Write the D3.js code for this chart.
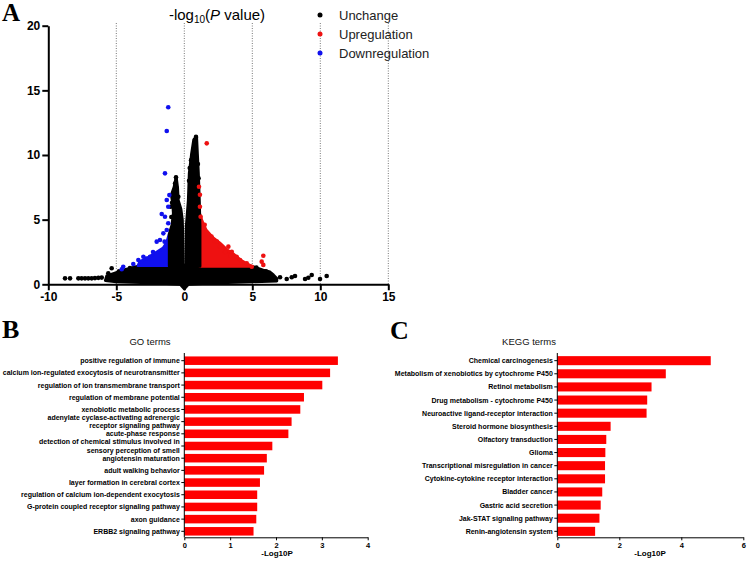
<!DOCTYPE html>
<html><head><meta charset="utf-8">
<script src="https://cdn.jsdelivr.net/npm/d3@7"></script>
<style>
body{margin:0;background:#fff;}
svg{display:block;font-family:"Liberation Sans",Arial,sans-serif;}
</style></head>
<body><svg id="c" width="747" height="561"></svg>
<script>
// ---------- Panel A data (volcano) ----------
const volcanoXTicks = [-10, -5, 0, 5, 10, 15];
const volcanoYTicks = [0, 5, 10, 15, 20];
const guideLines = [-5, 0, 5, 10, 15];
// dense clouds, outlined in data units
const blackBaseCloud = [[-5.8,0.3],[-5.7,0.65],[-5.0,0.9],[-4.3,1.15],[-3.4,1.4],[-1.1,1.45],[1.15,1.45],[4.9,1.4],[5.1,1.35],[5.8,1.1],[6.3,0.95],[6.55,0.72],[6.8,0.45],[6.8,0.25],[5,0.2],[2,0.1],[0.3,0.0],[0,-0.35],[-0.3,0],[-2,0.1],[-5,0.2]];
const blackLeftColumn = [[-1.1,1.4],[-1.1,3.9],[-0.9,4.6],[-0.8,5.5],[-0.85,6.3],[-0.95,6.9],[-0.75,7.5],[-0.6,8.3],[-0.5,7.5],[-0.45,6.5],[-0.25,5.8],[-0.15,5],[-0.12,4],[-0.08,1.4]];
const blackRightColumn = [[0.12,1.4],[0.15,4.5],[0.3,6.5],[0.37,8.6],[0.54,10.1],[0.7,11.2],[0.9,11.4],[0.96,10.1],[1.03,8.6],[1.1,6.5],[1.15,4.5],[1.15,1.4]];
const redCloud = [[1.15,1.4],[1.15,5.4],[1.3,4.9],[1.6,4.2],[2.1,3.6],[2.6,3.2],[3.1,2.7],[3.6,2.35],[4.1,1.9],[4.5,1.65],[4.85,1.45],[4.9,1.4]];
const blueCloud = [[-1.1,1.45],[-1.1,3.9],[-1.3,3.2],[-1.55,2.8],[-2.15,2.4],[-2.76,2.0],[-3.26,1.75],[-3.4,1.45]];
// individual points
const unchangePoints = [[-8.77,0.46],[-8.4,0.46],[-7.79,0.46],[-7.55,0.46],[-7.3,0.46],[-7.06,0.46],[-6.81,0.46],[-6.57,0.48],[-6.32,0.5],[-6.07,0.52],[-5.34,1.24],[-5.59,0.85],
  [7.04,0.54],[7.53,0.41],[7.9,0.54],[8.14,0.64],[8.88,0.41],[9.12,0.51],[9.37,0.72],[9.98,0.41],[10.47,0.64],
  [-0.61,8.27],[-0.68,7.8],[-0.56,7.42],[-0.68,6.93],[-0.44,6.77],[-0.9,6.3],[-1.0,6.0],[-0.95,5.2],
  [0.86,11.4],[0.79,11.03],[0.74,10.64],[0.66,10.13],[0.5,9.6],[0.4,9.0],[1.0,9.3],[0.35,8.0],[1.05,8.2],
  [5.3,1.3],[6.0,1.0],[-4.8,1.0],[-4.0,1.25]];
const upPoints = [[1.65,10.9],[1.08,7.55],[1.15,6.93],[1.15,6.0],[1.2,5.23],[2.26,3.3],[2.63,2.91],[3.24,2.91],[3.49,2.52],[3.85,2.13],[4.1,1.88],[4.59,1.62],[5.81,2.21],[5.69,1.75],[5.81,1.5],[4.96,1.36],[3.0,2.5],[2.0,3.7],[1.5,4.6],[2.4,3.3],[3.4,2.2]];
const downPoints = [[-1.18,13.69],[-1.29,11.86],[-1.42,8.58],[-1.1,6.9],[-1.29,6.52],[-1.18,6.0],[-1.66,5.44],[-1.42,5.23],[-1.18,4.72],[-1.29,4.2],[-1.54,3.94],[-2.03,3.3],[-1.79,3.43],[-2.52,2.13],[-3.01,2.13],[-3.38,1.88],[-3.75,1.57],[-4.49,1.36],[-4.6,1.16],[-2.3,2.5],[-1.45,3.3],[-2.8,2.0]];
const legendLabels = ["Unchange", "Upregulation", "Downregulation"];
const legendColors = ["#000000", "#ee1111", "#1010ee"];

// ---------- Panel B data (GO) ----------
const goTerms = ["positive regulation of immune","calcium ion-regulated exocytosis of neurotransmitter","regulation of ion transmembrane transport","regulation of membrane potential","xenobiotic metabolic process","adenylate cyclase-activating adrenergic\nreceptor signaling pathway","acute-phase response","detection of chemical stimulus involved in\nsensory perception of smell","angiotensin maturation","adult walking behavior","layer formation in cerebral cortex","regulation of calcium ion-dependent exocytosis","G-protein coupled receptor signaling pathway","axon guidance","ERBB2 signaling pathway"];
const goValues = [3.35,3.18,3.01,2.61,2.53,2.34,2.27,1.92,1.80,1.74,1.65,1.59,1.59,1.57,1.51];
const goTicks = [0,1,2,3,4];

// ---------- Panel C data (KEGG) ----------
const keggTerms = ["Chemical carcinogenesis","Metabolism of xenobiotics by cytochrome P450","Retinol metabolism","Drug metabolism - cytochrome P450","Neuroactive ligand-receptor interaction","Steroid hormone biosynthesis","Olfactory transduction","Glioma","Transcriptional misregulation in cancer","Cytokine-cytokine receptor interaction","Bladder cancer","Gastric acid secretion","Jak-STAT signaling pathway","Renin-angiotensin system"];
const keggValues = [4.95,3.50,3.04,2.90,2.88,1.72,1.58,1.55,1.54,1.54,1.45,1.40,1.36,1.22];
const keggTicks = [0,2,4,6];

const svg = d3.select("#c");
const letterFont = '"Liberation Serif","Times New Roman",serif';
const fmt = d => String(d);

// ===== Panel A =====
const x = d3.scaleLinear().domain([-10,15]).range([48.3,388.3]);
const y = d3.scaleLinear().domain([0,20]).range([284.3,25.7]);
const A = svg.append("g");
A.append("text").attr("x",2).attr("y",21).attr("font-family",letterFont).attr("font-weight","bold").attr("font-size",25).text("A");
A.selectAll("line.guide").data(guideLines).join("line").attr("class","guide")
  .attr("x1",d=>x(d)).attr("x2",d=>x(d)).attr("y1",23).attr("y2",y(0))
  .attr("stroke","#777").attr("stroke-width",1).attr("stroke-dasharray","1,1.5");
const line = d3.line().x(d=>x(d[0])).y(d=>y(d[1])).curve(d3.curveLinearClosed);
const clouds = [[blackBaseCloud,"#000"],[redCloud,"#ee1111"],[blueCloud,"#1010ee"],[blackLeftColumn,"#000"],[blackRightColumn,"#000"]];
clouds.forEach(([pts,col])=>{
  A.append("path").attr("d",line(pts)).attr("fill",col).attr("stroke",col).attr("stroke-width",3).attr("stroke-linejoin","round");
});
const drawPts=(pts,col)=>A.append("g").selectAll("circle").data(pts).join("circle")
  .attr("cx",d=>x(d[0])).attr("cy",d=>y(d[1])).attr("r",2.3).attr("fill",col);
drawPts(unchangePoints,"#000");
drawPts(upPoints,"#ee1111");
drawPts(downPoints,"#1010ee");
// axes
const xAx = A.append("g").attr("transform",`translate(0,${y(0)})`)
  .call(d3.axisBottom(x).tickValues(volcanoXTicks).tickFormat(fmt).tickSize(6).tickPadding(2).tickSizeOuter(0));
const yAx = A.append("g").attr("transform",`translate(${x(-10)},0)`)
  .call(d3.axisLeft(y).tickValues(volcanoYTicks).tickFormat(fmt).tickSize(6).tickPadding(2).tickSizeOuter(0));
[xAx,yAx].forEach(g=>{
  g.selectAll("path,line").attr("stroke","#000").attr("stroke-width",2);
  g.selectAll("text").attr("font-size",12).attr("font-weight","bold").attr("fill","#000").attr("font-family",'"Liberation Sans",Arial,sans-serif');
});
// title
const t = A.append("text").attr("x",217).attr("y",20).attr("text-anchor","middle").attr("font-size",15).attr("fill","#000");
t.append("tspan").text("-log");
t.append("tspan").attr("font-size",10).attr("dy",3).text("10");
t.append("tspan").attr("dy",-3).text("(");
t.append("tspan").attr("font-style","italic").text("P");
t.append("tspan").text(" value)");
// legend
const lg = A.append("g").selectAll("g").data(legendLabels).join("g")
  .attr("transform",(d,i)=>`translate(320,${15+i*19})`);
lg.append("circle").attr("r",2.5).attr("fill",(d,i)=>legendColors[i]);
lg.append("text").attr("x",19).attr("dy","0.36em").attr("font-size",13).attr("fill","#222").text(d=>d);

// ===== Bar panel helper =====
function barPanel(opt){
  const g = svg.append("g");
  const xs = d3.scaleLinear().domain(opt.domain).range([opt.x0,opt.x1]);
  const ys = d3.scaleBand().domain(opt.terms).range([opt.yTop,opt.yBot]).paddingInner(opt.pad).paddingOuter(opt.pad/2);
  g.append("text").attr("x",opt.letterX).attr("y",opt.letterY).attr("font-family",letterFont).attr("font-weight","bold").attr("font-size",26).text(opt.letter);
  g.append("text").attr("x",opt.titleX).attr("y",opt.titleY).attr("text-anchor","middle").attr("font-size",9.5).attr("fill","#111").text(opt.title);
  g.selectAll("rect").data(opt.values).join("rect")
    .attr("x",xs(0)).attr("y",(d,i)=>ys(opt.terms[i])).attr("height",ys.bandwidth())
    .attr("width",d=>xs(d)-xs(0)).attr("fill","#ff0000");
  const ax = g.append("g").attr("transform",`translate(0,${opt.axisY})`)
    .call(d3.axisBottom(xs).tickValues(opt.ticks).tickFormat(fmt).tickSize(3).tickPadding(2).tickSizeOuter(0));
  ax.selectAll("path,line").attr("stroke","#000").attr("stroke-width",1);
  ax.selectAll("text").attr("font-size",7.5).attr("font-weight","bold").attr("fill","#000");
  const ay = g.append("g").attr("transform",`translate(${xs(0)},0)`)
    .call(d3.axisLeft(ys).tickSize(3).tickSizeOuter(0).tickFormat(""));
  ay.select("path").attr("d",`M0,${opt.axisTop}V${opt.axisY}`);
  ay.selectAll("path,line").attr("stroke","#000").attr("stroke-width",1);
  const lab = g.append("g").selectAll("text").data(opt.terms).join("text")
    .attr("x",xs(0)-4.5).attr("y",d=>ys(d)+ys.bandwidth()/2)
    .attr("text-anchor","end").attr("font-size",7).attr("font-weight","bold").attr("fill","#000");
  lab.each(function(d){
    const parts = d.split("\n");
    const sel = d3.select(this);
    parts.forEach((p,k)=>{
      sel.append("tspan").attr("x",xs(0)-4.5)
        .attr("dy", k===0 ? (parts.length===1 ? "0.35em" : (0.35-0.6)+"em") : "1.2em").text(p);
    });
  });
  g.append("text").attr("x",opt.xlabX).attr("y",556).attr("text-anchor","middle").attr("font-size",8).attr("font-weight","bold").attr("fill","#000").text("-Log10P");
}
barPanel({terms:goTerms,values:goValues,ticks:goTicks,domain:[0,4],x0:184.3,x1:367.7,yTop:354.6,yBot:537.4,pad:0.3,
  axisTop:353,axisY:537.3,letter:"B",letterX:2,letterY:338,title:"GO terms",titleX:150,titleY:345,xlabX:277});
barPanel({terms:keggTerms,values:keggValues,ticks:keggTicks,domain:[0,6],x0:557.3,x1:743.3,yTop:354.1,yBot:537.9,pad:0.31,
  axisTop:353,axisY:537.3,letter:"C",letterX:390,letterY:339,title:"KEGG terms",titleX:529,titleY:345,xlabX:650});
</script></body></html>
